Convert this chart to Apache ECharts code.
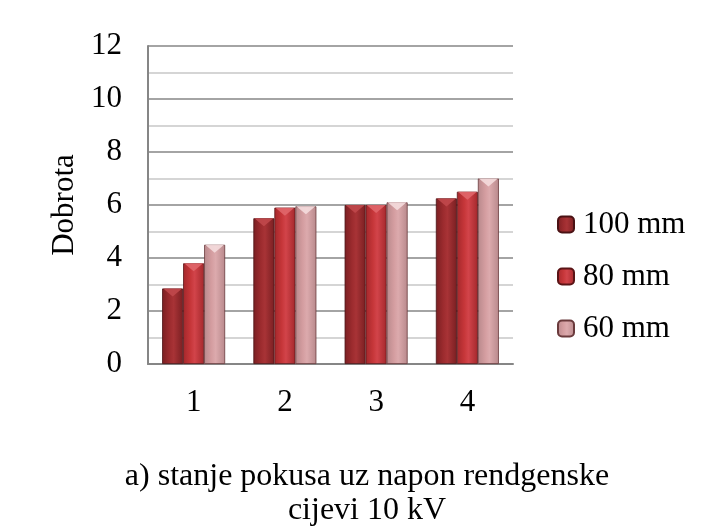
<!DOCTYPE html>
<html>
<head>
<meta charset="utf-8">
<script src="https://cdn.jsdelivr.net/npm/echarts@6/dist/echarts.min.js"></script>
<style>
html,body{margin:0;padding:0;background:#fff;}
#chart{width:704px;height:530px;}
</style>
</head>
<body>
<div id="chart"></div>
<script>
var categories = ['1', '2', '3', '4'];
var seriesNames = ['100 mm', '80 mm', '60 mm'];
var values100 = [2.85, 5.5, 6.0, 6.25];
var values80 = [3.8, 5.9, 6.0, 6.5];
var values60 = [4.5, 5.95, 6.1, 7.0];
var titleText = 'a) stanje pokusa uz napon rendgenske\ncijevi 10 kV';
var yAxisName = 'Dobrota';

var FONT = "'Liberation Serif', 'Times New Roman', serif";

function grad(edge, mid, light) {
  return new echarts.graphic.LinearGradient(0, 0, 1, 0, [
    {offset: 0, color: edge},
    {offset: 0.35, color: mid},
    {offset: 0.55, color: light},
    {offset: 1, color: edge}
  ]);
}
var palettes = [
  {edge: '#7a1f22', mid: '#9c2b2e', light: '#a83336', tri: '#c0484b', border: '#4a1214'},
  {edge: '#a4282c', mid: '#c63639', light: '#d2444a', tri: '#e0666a', border: '#5a1416'},
  {edge: '#b8898c', mid: '#d49da0', light: '#dcaaad', tri: '#f4dcdd', border: '#6a3a3c'}
];
var dataSets = [values100, values80, values60];

var series = [];
dataSets.forEach(function (d, i) {
  var p = palettes[i];
  series.push({
    name: seriesNames[i],
    type: 'bar',
    data: d,
    barWidth: 21,
    barGap: '0%',
    itemStyle: {
      color: grad(p.edge, p.mid, p.light),
      borderColor: p.border,
      borderWidth: 0.8
    }
  });
});
dataSets.forEach(function (d, i) {
  var p = palettes[i];
  series.push({
    name: seriesNames[i] + ' top',
    type: 'pictorialBar',
    data: d,
    barWidth: 21,
    barGap: '0%',
    symbol: 'path://M0,0 L20,0 L10,8 Z',
    symbolSize: [19, 8],
    symbolPosition: 'end',
    symbolOffset: [0, 0],
    itemStyle: {color: p.tri, opacity: 0.9},
    silent: true,
    z: 3
  });
});

var chart = echarts.init(document.getElementById('chart'), null, {renderer: 'canvas'});
chart.setOption({
  animation: false,
  backgroundColor: '#ffffff',
  textStyle: {fontFamily: FONT},
  title: {
    text: titleText,
    left: 367,
    textAlign: 'center',
    top: 460,
    padding: 0,
    textStyle: {fontFamily: FONT, fontSize: 32, fontWeight: 'normal', color: '#000', lineHeight: 34}
  },
  legend: {
    orient: 'vertical',
    left: 557,
    top: 209,
    padding: 0,
    itemWidth: 16,
    itemHeight: 16,
    itemGap: 21,
    data: seriesNames,
    textStyle: {fontFamily: FONT, fontSize: 31, color: '#000', lineHeight: 31, padding: [0, 0, 0, 4]}
  },
  grid: {left: 148, right: 191, top: 46, bottom: 166, containLabel: false},
  xAxis: {
    type: 'category',
    data: categories,
    axisLine: {lineStyle: {color: '#868686', width: 2}},
    axisTick: {show: false},
    axisLabel: {fontFamily: FONT, fontSize: 31, color: '#000', margin: 23}
  },
  yAxis: {
    type: 'value',
    min: 0,
    max: 12,
    interval: 2,
    name: yAxisName,
    nameLocation: 'middle',
    nameGap: 68,
    nameRotate: 90,
    nameTextStyle: {fontFamily: FONT, fontSize: 31, color: '#000'},
    axisLine: {show: true, lineStyle: {color: '#868686', width: 2}},
    axisTick: {show: false},
    minorTick: {show: false, splitNumber: 2},
    axisLabel: {fontFamily: FONT, fontSize: 31, color: '#000', margin: 26},
    splitLine: {show: true, lineStyle: {color: '#868686', width: 1.5}},
    minorSplitLine: {show: true, lineStyle: {color: '#c8c8c8', width: 1.5}}
  },
  series: series
});
</script>
</body>
</html>
